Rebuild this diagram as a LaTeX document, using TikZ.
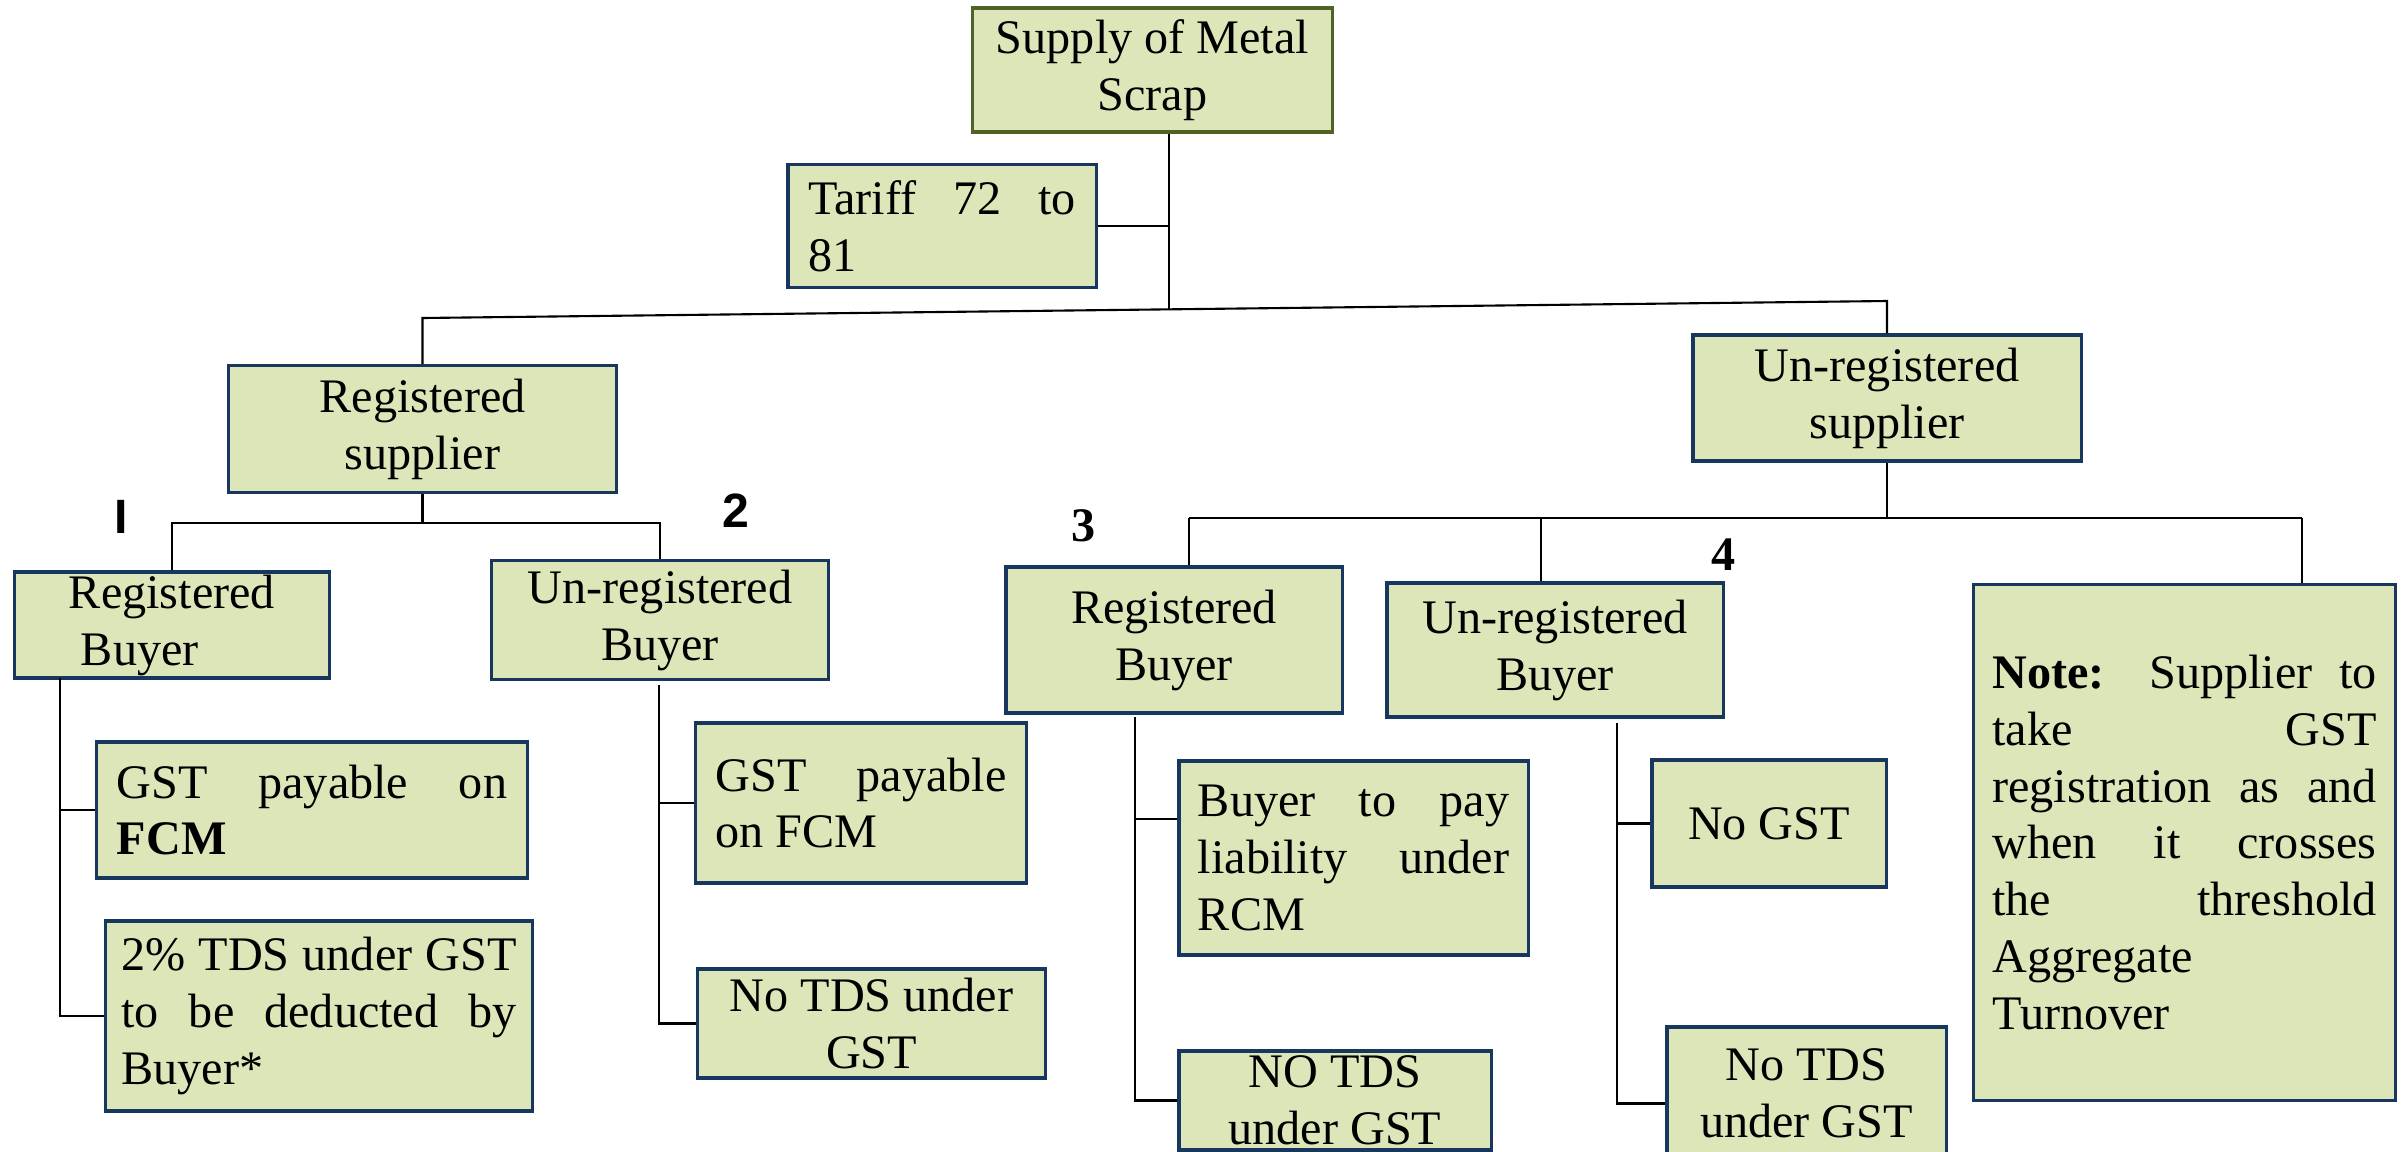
\documentclass[tikz,border=0pt]{standalone}
\usepackage{fontspec}
\setmainfont{Liberation Serif}
\setsansfont{Liberation Sans}
\usetikzlibrary{positioning}
\definecolor{boxfill}{HTML}{DCE6B9}
\definecolor{boxline}{HTML}{17375E}
\definecolor{topline}{HTML}{4F6228}
\hyphenpenalty=10000
\exhyphenpenalty=10000
\begin{document}
\begin{tikzpicture}[x=0.01cm, y=-0.01cm,
    box/.style={draw=boxline, fill=boxfill, line width=0.9pt, inner ysep=0pt,
        font=\fontsize{13.7}{16.2}\selectfont},
    cbox/.style={box, align=center, inner xsep=0pt},
    jbox/.style={box, align=justify},
    link/.style={line width=0.6pt},
    num/.style={font=\fontsize{13.7}{16.2}\selectfont\bfseries, inner sep=0pt}]
    \useasboundingbox (0,0) rectangle (2407,1151);
    \clip (0,0) rectangle (2407,1151);
    % top of the tree
    \node[cbox, draw=topline, minimum width=3.59cm, minimum height=1.24cm] (top) at (1152.5,70) {Supply of Metal\\Scrap};
    \node[jbox, text width=2.67cm, inner xsep=0.205cm, minimum height=1.23cm] (tariff) at (942,226) {Tariff 72 to\linebreak 81};
    \node[cbox, minimum width=3.87cm, minimum height=1.27cm] (regsup) at (422.5,429) {Registered\\supplier};
    \node[cbox, minimum width=3.88cm, minimum height=1.26cm] (unregsup) at (1887,398) {Un-registered\\supplier};
    % registered supplier
    \node[box, align=left, inner xsep=0pt, minimum width=3.14cm, minimum height=1.06cm] (rb1) at (172,625) {Registered\\\hspace*{0.12cm}Buyer};
    \node[cbox, minimum width=3.36cm, minimum height=1.19cm] (ub2) at (660,620) {Un-registered\\Buyer};
    \node[jbox, text width=3.90cm, inner xsep=0.2cm, minimum height=1.36cm] (gst1) at (312,810) {GST payable on\linebreak \textbf{FCM}};
    \node[jbox, text width=3.95cm, inner xsep=0.155cm, minimum height=1.90cm] (tds1) at (319,1016) {2\% TDS under GST\linebreak to be deducted by\linebreak Buyer*};
    \node[jbox, text width=2.91cm, inner xsep=0.195cm, minimum height=1.60cm] (gst2) at (861,803) {GST payable\linebreak on FCM};
    \node[cbox, minimum width=3.47cm, minimum height=1.09cm] (notds2) at (871.5,1023.5) {No TDS under\\GST};
    % un-registered supplier
    \node[cbox, minimum width=3.36cm, minimum height=1.46cm] (rb3) at (1174,640) {Registered\\Buyer};
    \node[cbox, minimum width=3.36cm, minimum height=1.34cm] (ub4) at (1555,650) {Un-registered\\Buyer};
    \node[jbox, text width=3.11cm, inner xsep=0.19cm, minimum height=1.94cm] (pay) at (1353.5,858) {Buyer to pay\linebreak liability under\linebreak RCM};
    \node[cbox, minimum width=3.12cm, minimum height=0.99cm] (notds3) at (1335,1100.5) {NO TDS\\under GST};
    \node[cbox, minimum width=2.34cm, minimum height=1.27cm] (nogst) at (1769,823.5) {No GST};
    \node[cbox, minimum width=2.79cm, minimum height=1.33cm] (notds4) at (1806.5,1093.5) {No TDS\\under GST};
    \node[jbox, text width=3.84cm, inner xsep=0.185cm, minimum height=5.15cm] (note) at (2184.5,842.5) {\textbf{Note:} Supplier to\linebreak take GST\linebreak registration as and\linebreak when it crosses\linebreak the threshold\linebreak Aggregate\\Turnover};
    % numbers
    \node[num, font=\fontsize{13.7}{16.2}\selectfont\sffamily\bfseries] (n1) at (121,517) {I};
    \node[num, font=\fontsize{13.7}{16.2}\selectfont\sffamily\bfseries] (n2) at (736,511) {2};
    \node[num] (n3) at (1084,526) {3};
    \node[num] (n4) at (1724,555) {4};
    % connectors
    \coordinate (trunk) at (1169,309);
    \coordinate (jl) at (418,318);
    \coordinate (jr) at (1887,301);
    \draw[link] (top.south -| trunk) -- (trunk);
    \draw[link] (tariff.east) -- (tariff.east -| trunk);
    \draw[link] (regsup.north) -- (regsup.north |- jl) -- (jr) -- (unregsup.north);
    \coordinate (j1) at (418,523);
    \draw[link] (regsup.south) -- (regsup.south |- j1);
    \draw[link] (rb1.north) -- (rb1.north |- j1) -- (ub2.north |- j1) -- (ub2.north);
    \coordinate (s1) at (60,678);
    \draw[link] (s1) |- (tds1.west);
    \draw[link] (gst1.west) -- (gst1.west -| s1);
    \coordinate (s2) at (659,685);
    \draw[link] (s2) |- (notds2.west);
    \draw[link] (gst2.west) -- (gst2.west -| s2);
    \coordinate (j2) at (1887,518);
    \coordinate (c3) at (1189,518);
    \coordinate (c4) at (1541,518);
    \coordinate (c5) at (2302,518);
    \draw[link] (unregsup.south) -- (j2);
    \draw[link] (c3) -- (c5);
    \draw[link] (c3) -- (c3 |- rb3.north);
    \draw[link] (c4) -- (c4 |- ub4.north);
    \draw[link] (c5) -- (c5 |- note.north);
    \coordinate (s3) at (1135,717);
    \draw[link] (s3) |- (notds3.west);
    \draw[link] ([yshift=3.9mm]pay.west) -- ([yshift=3.9mm]pay.west -| s3);
    \coordinate (s4) at (1617,723);
    \draw[link] (s4) |- ([yshift=-1mm]notds4.west);
    \draw[link] (nogst.west) -- (nogst.west -| s4);
\end{tikzpicture}
\end{document}
